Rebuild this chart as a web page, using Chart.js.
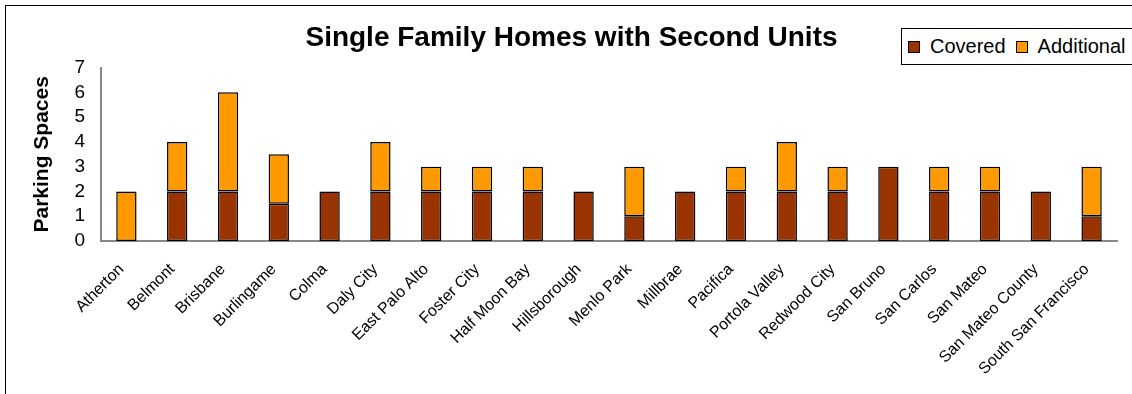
<!DOCTYPE html>
<html>
<head>
<meta charset="utf-8">
<script src="https://cdn.jsdelivr.net/npm/chart.js@4"></script>
<style>
  html, body { margin: 0; padding: 0; background: #fff; overflow: hidden; }
  body { width: 1132px; height: 394px; position: relative; font-family: Arial, "Liberation Sans", sans-serif; }
  #frame { position: absolute; left: 5px; top: 5px; width: 1200px; height: 500px; border: 1px solid #000; }
  #wrap { position: absolute; left: 0; top: 0; width: 1132px; height: 394px; }
  #legend { position: absolute; left: 901px; top: 28px; width: 260px; height: 35px; border: 1px solid #000; background: #fff;
            display: flex; align-items: center; font-size: 20px; color: #000; }
  .item { display: flex; align-items: center; margin-left: 6px; margin-right: 4px; }
  .sw { width: 10px; height: 10px; border: 1px solid #000; margin-right: 10px; }
</style>
</head>
<body>
<div id="frame"></div>
<div id="wrap"><canvas id="chart" width="1132" height="394"></canvas></div>
<div id="legend"></div>
<script>
// dados
const cities = ['Atherton', 'Belmont', 'Brisbane', 'Burlingame', 'Colma', 'Daly City', 'East Palo Alto',
  'Foster City', 'Half Moon Bay', 'Hillsborough', 'Menlo Park', 'Millbrae', 'Pacifica', 'Portola Valley',
  'Redwood City', 'San Bruno', 'San Carlos', 'San Mateo', 'San Mateo County', 'South San Francisco'];
const covered =    [0, 2, 2, 1.5, 2, 2, 2, 2, 2, 2, 1, 2, 2, 2, 2, 3, 2, 2, 2, 1];
const additional = [2, 2, 4, 2,   0, 2, 1, 1, 1, 0, 2, 0, 1, 2, 1, 0, 1, 1, 0, 2];
const yTicks = [0, 1, 2, 3, 4, 5, 6, 7];

const seriesNames = ['Covered', 'Additional'];
const seriesColors = ['#993300', '#FF9900'];

// legenda em HTML (com moldura, como no original)
const legendEl = document.getElementById('legend');
seriesNames.forEach((name, i) => {
    const item = document.createElement('div');
    item.className = 'item';
    const sw = document.createElement('span');
    sw.className = 'sw';
    sw.style.background = seriesColors[i];
    const txt = document.createElement('span');
    txt.textContent = name;
    item.appendChild(sw);
    item.appendChild(txt);
    legendEl.appendChild(item);
});

const FONT = 'Arial, "Liberation Sans", sans-serif';

const ctx = document.getElementById('chart');
new Chart(ctx, {
    type: 'bar',
    data: {
        labels: cities,
        datasets: seriesNames.map((name, i) => ({
            label: name,
            data: i === 0 ? covered : additional,
            backgroundColor: seriesColors[i],
            borderColor: '#000',
            borderWidth: 1.5,
            borderSkipped: false,
            categoryPercentage: 1,
            barPercentage: 0.4
        }))
    },
    options: {
        responsive: false,
        animation: false,
        layout: { padding: { left: 26, right: 15, top: 0, bottom: 0 } },
        plugins: {
            legend: { display: false },
            tooltip: { enabled: false },
            title: {
                display: true,
                text: 'Single Family Homes with Second Units',
                color: '#000',
                font: { family: FONT, size: 28, weight: 'bold' },
                padding: { top: 21, bottom: 13 }
            }
        },
        scales: {
            x: {
                stacked: true,
                grid: { display: false, drawTicks: false },
                border: { display: true, color: '#888', width: 2 },
                ticks: {
                    color: '#000',
                    minRotation: 45,
                    maxRotation: 45,
                    autoSkip: false,
                    padding: 19,
                    labelOffset: -5,
                    font: { family: FONT, size: 16 }
                },
                afterFit: function(scale) { scale.height = 153; }
            },
            y: {
                stacked: true,
                min: 0,
                max: 7,
                afterBuildTicks: function(scale) {
                    scale.ticks = yTicks.map(v => ({ value: v }));
                },
                grid: { display: false, drawTicks: false },
                border: { display: true, color: '#888', width: 2 },
                ticks: {
                    color: '#000',
                    padding: 16,
                    autoSkip: false,
                    font: { family: FONT, size: 19 }
                },
                title: {
                    display: true,
                    text: 'Parking Spaces',
                    color: '#000',
                    padding: 4,
                    font: { family: FONT, size: 21, weight: 'bold' }
                },
                afterFit: function(scale) { scale.width = 75; }
            }
        }
    }
});
</script>
</body>
</html>
